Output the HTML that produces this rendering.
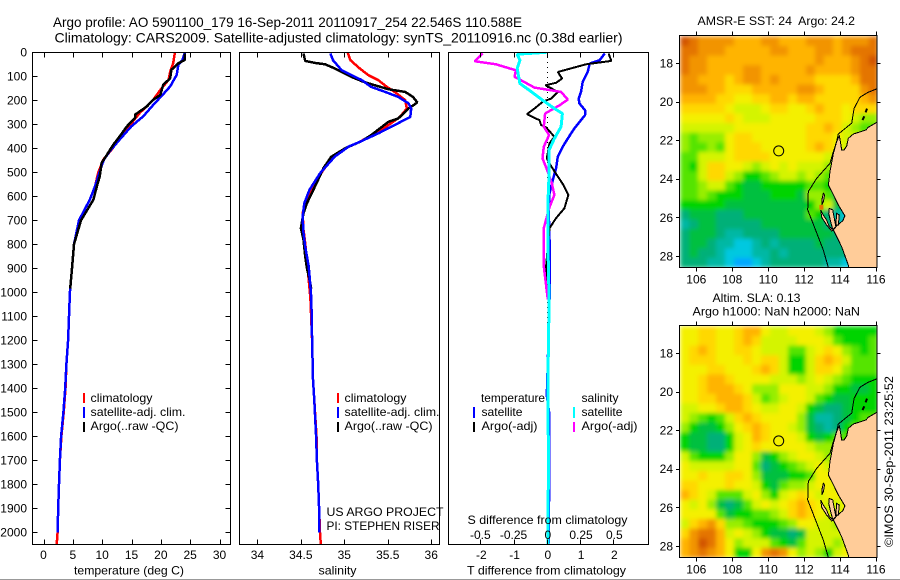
<!DOCTYPE html>
<html><head><meta charset="utf-8"><title>Argo profile</title>
<style>
html,body{margin:0;padding:0;background:#fff}
svg{display:block}
text{font-family:"Liberation Sans",sans-serif;font-size:12px;fill:#000}
.t{font-size:14px}
.frame{fill:none;stroke:#000;stroke-width:1;shape-rendering:crispEdges}
</style></head>
<body>
<svg id="fig" xmlns="http://www.w3.org/2000/svg" width="900" height="580" viewBox="0 0 900 580">
<defs>
<clipPath id="cp1"><rect x="32.5" y="52.5" width="198" height="492"/></clipPath>
<clipPath id="cp2"><rect x="239.5" y="52.5" width="200" height="492"/></clipPath>
<clipPath id="cp3"><rect x="448.5" y="52.5" width="200" height="492"/></clipPath>
<clipPath id="cpm1"><rect x="680" y="35.5" width="197" height="232"/></clipPath>
<clipPath id="cpm2"><rect x="680" y="325.5" width="197" height="232"/></clipPath>
<filter id="bm1" filterUnits="userSpaceOnUse" x="680" y="35" width="198" height="233"><feGaussianBlur stdDeviation="2.2" edgeMode="duplicate"/></filter>
<filter id="bm2" filterUnits="userSpaceOnUse" x="680" y="325" width="198" height="233"><feGaussianBlur stdDeviation="2.2" edgeMode="duplicate"/></filter>
</defs>

<text class="t" x="53" y="27" textLength="469" lengthAdjust="spacingAndGlyphs">Argo profile: AO 5901100_179 16-Sep-2011 20110917_254 22.546S 110.588E</text>
<text class="t" x="54.5" y="42.5" textLength="568" lengthAdjust="spacingAndGlyphs">Climatology: CARS2009. Satellite-adjusted climatology: synTS_20110916.nc (0.38d earlier)</text>

<g id="p1"></g>
<g id="p2"></g>
<g id="p3"></g>
<g id="m1"></g>
<g id="m2"></g>

<text x="74" y="574.5" textLength="110" lengthAdjust="spacingAndGlyphs">temperature (deg C)</text>
<text x="318.5" y="574.5" textLength="38" lengthAdjust="spacingAndGlyphs">salinity</text>
<text x="467" y="574.5" textLength="159" lengthAdjust="spacingAndGlyphs">T difference from climatology</text>
<text x="467.5" y="524" textLength="160" lengthAdjust="spacingAndGlyphs">S difference from climatology</text>

<g>
<rect x="83" y="393" width="2" height="10" fill="#f00"/>
<rect x="83" y="407" width="2" height="11" fill="#00f"/>
<rect x="83" y="422" width="2" height="10" fill="#000"/>
<text x="90.5" y="402" textLength="62" lengthAdjust="spacingAndGlyphs">climatology</text>
<text x="90.5" y="416" textLength="95" lengthAdjust="spacingAndGlyphs">satellite-adj. clim.</text>
<text x="90.5" y="430" textLength="88" lengthAdjust="spacingAndGlyphs">Argo(..raw -QC)</text>
</g>
<g>
<rect x="337" y="393" width="2" height="10" fill="#f00"/>
<rect x="337" y="407" width="2" height="11" fill="#00f"/>
<rect x="337" y="422" width="2" height="10" fill="#000"/>
<text x="344.5" y="402" textLength="62" lengthAdjust="spacingAndGlyphs">climatology</text>
<text x="344.5" y="416" textLength="95" lengthAdjust="spacingAndGlyphs">satellite-adj. clim.</text>
<text x="344.5" y="430" textLength="88" lengthAdjust="spacingAndGlyphs">Argo(..raw -QC)</text>
</g>
<g>
<text x="326.5" y="516" textLength="117" lengthAdjust="spacingAndGlyphs">US ARGO PROJECT</text>
<text x="326.5" y="530" textLength="113" lengthAdjust="spacingAndGlyphs">PI: STEPHEN RISER</text>
</g>
<g>
<text x="481" y="402" textLength="64" lengthAdjust="spacingAndGlyphs">temperature</text>
<text x="581.5" y="402" textLength="37" lengthAdjust="spacingAndGlyphs">salinity</text>
<rect x="473" y="407" width="2" height="11" fill="#00f"/>
<rect x="473" y="422" width="2" height="10" fill="#000"/>
<rect x="573" y="407" width="2" height="11" fill="#0ff"/>
<rect x="573" y="422" width="2" height="10" fill="#f0f"/>
<text x="481.5" y="416" textLength="41" lengthAdjust="spacingAndGlyphs">satellite</text>
<text x="481.5" y="430" textLength="56" lengthAdjust="spacingAndGlyphs">Argo(-adj)</text>
<text x="581.5" y="416" textLength="41" lengthAdjust="spacingAndGlyphs">satellite</text>
<text x="581.5" y="430" textLength="56" lengthAdjust="spacingAndGlyphs">Argo(-adj)</text>
</g>

<text x="697.5" y="25" textLength="157.5" lengthAdjust="spacingAndGlyphs" xml:space="preserve">AMSR-E SST: 24  Argo: 24.2</text>
<text x="712.5" y="302" textLength="88" lengthAdjust="spacingAndGlyphs">Altim. SLA: 0.13</text>
<text x="692.5" y="315.5" textLength="167.5" lengthAdjust="spacingAndGlyphs">Argo h1000: NaN h2000: NaN</text>
<text transform="translate(893,547) rotate(-90)" textLength="171" lengthAdjust="spacingAndGlyphs">©IMOS 30-Sep-2011 23:25:52</text>
<rect x="0" y="579" width="900" height="1" fill="#999"/>
</svg>

<script>
/* ---------- data ---------- */
const depthTicks = [0,100,200,300,400,500,600,700,800,900,1000,1100,1200,1300,1400,1500,1600,1700,1800,1900,2000];
const tempTicks = [0,5,10,15,20,25,30];
const salTicks = [34,34.5,35,35.5,36];
const salTickLabels = ['34','34.5','35','35.5','36'];
const tDiffTicks = [-2,-1,0,1,2];
const sDiffTicks = [-0.5,-0.25,0,0.25,0.5];
const sDiffTickLabels = ['-0.5','-0.25','0','0.25','0.5'];
const lonTicks = [106,108,110,112,114,116];
const latTicks = [18,20,22,24,26,28];

const tempClimDepth = [0,46,80,115,157,198,253,295,357,406,447,503,558,614,700,800,900,1000,1100,1200,1300,1400,1500,1600,1700,1800,1900,2000,2050];
const tempClim = [22.4,22.1,21.6,21.3,19.9,18.7,16.4,15,13,11.6,10.2,9.3,8.8,7.9,6.05,5.2,4.85,4.5,4.35,4.2,3.9,3.75,3.45,3.05,2.8,2.65,2.5,2.4,2.25];
const tempSatDepth = [0,32,52,94,142,183,211,267,308,363,412,447,495,558,614,700,800,900,1000,1100,1200,1300,1400,1500,1600,1700,1800,1900,2000];
const tempSat = [24.1,23.7,23,22.7,21.6,20.1,19,17,15,13,11.3,10.3,9.6,8.8,7.9,6.05,5.2,4.85,4.5,4.35,4.2,3.9,3.7,3.4,3,2.8,2.65,2.5,2.4];
const tempArgoDepth = [4,32,46,73,108,136,178,198,226,260,274,309,350,385,427,461,516,558,614,700,800,900,985];
const tempArgo = [24.1,24.1,23,21.8,21.6,20.4,19.9,18.7,17.6,15.6,15.6,14.2,13,11.9,10.8,9.9,9.6,9.1,8.5,6.4,5.2,4.85,4.55];

const salClimDepth = [3,33,68,96,116,144,165,199,234,269,303,338,373,393,428,490,546,615,670,740,795,864,947,1024,1200,1363,1450,1600,1700,1800,1900,2000,2050];
const salClim = [35.04,35.07,35.18,35.28,35.39,35.49,35.58,35.7,35.72,35.64,35.51,35.35,35.18,35.05,34.89,34.76,34.66,34.57,34.52,34.53,34.55,34.57,34.59,34.61,34.63,34.64,34.655,34.68,34.685,34.7,34.71,34.72,34.73];
const salSatDepth = [5,33,75,93,116,144,165,186,213,234,269,303,338,373,393,435,504,573,629,684,753,809,892,975,1024,1200,1363,1450,1600,1700,1800,1900,2000];
const salSat = [34.84,34.87,34.97,35.07,35.2,35.31,35.47,35.62,35.74,35.77,35.76,35.58,35.39,35.18,35.05,34.89,34.72,34.6,34.54,34.52,34.53,34.55,34.59,34.61,34.62,34.63,34.64,34.655,34.675,34.685,34.7,34.71,34.715];
const salArgoDepth = [5,36,44,50,64,82,102,123,137,154,165,186,209,234,276,289,345,370,400,435,483,546,629,670,733,781,850,899,947,986];
const salArgo = [34.53,34.55,34.66,34.78,34.87,34.97,35.08,35.22,35.35,35.51,35.7,35.79,35.84,35.74,35.62,35.51,35.31,35.2,35.01,34.85,34.76,34.68,34.57,34.53,34.5,34.53,34.55,34.57,34.6,34.62];

const diffTSatDepth = [5,33,47,82,123,165,193,213,241,262,317,359,393,435,483,532,587,670,781,1030,1400,1420,1500,1700,2050];
const diffTSat = [1.71,1.56,1.26,1.2,1.05,1,0.93,0.95,1.12,1.12,0.8,0.6,0.45,0.3,0.25,0.15,0.05,0.03,0.05,0.05,-0.02,-0.04,0.04,0.05,0.02];
const diffTArgoDepth = [5,36,50,82,109,127,137,165,193,206,234,258,283,303,313,352,379,442,474,511,553,594,650,691,733,809,892,975];
const diffTArgo = [1.83,1.91,1.15,0.3,0.43,0.25,-0.07,0.3,0.1,-0.15,-0.4,-0.63,-0.25,-0.2,-0.05,0.2,0.05,-0.03,0.1,0.27,0.47,0.62,0.5,0.25,0.05,0,-0.05,-0.02];
const diffSArgoDepth = [5,37,50,75,102,123,147,165,197,220,255,310,345,393,442,483,546,594,650,733,809,892,1030];
const diffSArgo = [-0.49,-0.55,-0.39,-0.24,-0.25,-0.18,-0.1,0.1,0.15,0.09,-0.02,-0.03,0.01,-0.03,-0.04,-0.01,0.03,0.05,0.01,-0.03,-0.03,-0.03,0];
const diffSSatDepth = [0,8,33,68,130,158,199,234,255,310,359,407,504,643,781,1030,1400,1700,2050];
const diffSSat = [-0.01,-0.23,-0.21,-0.23,-0.21,-0.14,-0.04,0.05,0.11,0.1,0.05,0.01,0.01,0,0,0.01,0,0.005,0];

/* map level grids: one char per 0.5-degree cell, hex level into mapPalette */
const mapPalette = ['#00a8ff','#00c8e0','#00b8a4','#00b078','#00c040','#00d400','#54e400','#98ee00','#d4f400','#f4f000','#ffd800','#ffb400','#f29400','#e47400','#d25400'];
const sstRows = [
'edccccbbbccbbbcccbcccd',
'ddcccbbbbbccbbbccbcddd',
'dccbbbbbbbbbbbbcbbbcde',
'dccbbbbccbbbbbcbbbbcdd',
'ccbbbabccbcbbbbaaaabdd',
'cccbbaaabbbbbccbaaaacd',
'bbbbaa99aabbabbaaaaabc',
'aaaaa98889aa99abaa9aaa',
'99999a988899999aaa9877',
'88888899999999aaba8766',
'767779aa999999aaa98877',
'766769aaa99999aba98877',
'668889aaaa999999887777',
'658aa99878989888766666',
'668aa87556788787654444',
'6678865445555566544444',
'6676555444555477642222',
'5555544444444457842111',
'3444333444444465321111',
'2344333334444444321111',
'3444322333344444433333',
'3443221123233334333333',
'3433211122323333333322',
'3332210012333333221111'
];
const slaRows = [
'99aa99abb9889998755555',
'99aa99aba8888999865556',
'9aba99aa98886689a97656',
'9aaa999a9aa8558aba8666',
'999aa999aba8558aa97666',
'99abba9999888789876555',
'99abbba977799988755445',
'99aabbba86789986544555',
'8899abba98899854334555',
'876568aba9999742234566',
'7544579aba998743235666',
'54433589ba999854566677',
'54433589a9999987778888',
'8655579974578998768888',
'9888889963456789878888',
'99a99aa974445569988999',
'aa999a9985467789989999',
'ba98666897589a98999aaa',
'989743468989aba98899aa',
'999964556678aba988999a',
'8abca7765556799887899a',
'acddb898754434888889aa',
'bcedb978886546888789aa',
'bcdcb9559cdc9787589aaa'
];

/* geography in degrees: [lon, lat] */
const coastLand = [[116.1,21.03],[115.57,21.32],[115.44,21.46],[114.74,21.67],[114.46,21.89],[114.37,22.29],[114.22,22.5],[114.09,22.5],[114,21.98],[113.96,21.77],[113.81,22.07],[113.63,22.67],[113.44,23.62],[113.35,24.32],[113.59,24.75],[113.9,25.35],[114.27,25.92],[114.15,26.17],[113.81,26.44],[113.63,26.65],[114.09,27.52],[114.46,28.47],[114.52,28.7],[116.2,28.7]];
const peronLand = [[113.4,25.53],[113.59,25.61],[113.68,26.05],[113.77,26.48],[113.59,26.62],[113.48,26.22],[113.37,25.79]];
const eastBayLand = [[113.81,25.79],[113.96,25.87],[113.9,26.39],[113.77,26.39]];
const edelLand = [[112.92,25.61],[113.07,25.87],[113.25,26.13],[113.4,26.48],[113.63,26.65],[113.53,26.7],[113.25,26.39],[112.98,25.99]];
const hartogLand = [[113.07,24.75],[113.14,24.83],[113.07,25.18],[112.99,25.35],[112.99,25.09]];
const isletA = [[115.5,20.35],[115.42,20.55]];
const isletB = [[115.35,20.75],[115.25,20.95]];
const isobath = [[116.1,19.3],[115.57,19.5],[115.11,19.76],[114.78,20.34],[114.65,21.11],[113.9,21.67],[113.81,22.07],[113.63,22.58],[113.44,23.19],[112.7,23.97],[112.23,24.66],[112.2,25.61],[112.6,26.56],[113.07,27.69],[113.38,28.7]];
const floatLon = 110.588;
const floatLat = 22.546;
const hotCellLon = [112.85,113.07];
const hotCellLat = [25.35,25.6];

/* ---------- helpers ---------- */
const NS = 'http://www.w3.org/2000/svg';
function mk(parent, tag, attrs, txt){
  const e = document.createElementNS(NS, tag);
  for (const k in attrs) e.setAttribute(k, attrs[k]);
  if (txt !== undefined) e.textContent = txt;
  parent.appendChild(e);
  return e;
}
const yDepth = d => 52.3 + d * 0.24;
const xTemp = v => 43.5 + v * 5.867;
const xSal = v => 344.3 + (v - 35) * 86.9;
const xTDiff = v => 547.8 + v * 33.25;
const xSDiff = v => 547.8 + v * 133;
const xLon = lon => 696.3 + (lon - 106) * 17.97;
const yLatM1 = lat => 63.3 + (lat - 18) * 19.27;
const yLatM2 = lat => 353.3 + (lat - 18) * 19.27;

function profile(g, xs, ds, xf, color, clip, name, width){
  const pts = xs.map((v,i) => xf(v).toFixed(1) + ',' + yDepth(ds[i]).toFixed(1)).join(' ');
  const el = mk(g, 'polyline', {points: pts, fill:'none', stroke: color, 'stroke-width': width || 2, 'clip-path': 'url(#'+clip+')', 'stroke-linejoin':'bevel', 'shape-rendering':'crispEdges'});
  
  
}
function vTick(g, x, y1, y2){
  const el = mk(g, 'line', {x1:x, x2:x, y1:y1, y2:y2, stroke:'#000', 'stroke-width':1, 'shape-rendering':'crispEdges'});
  
  
}
function hTick(g, y, x1, x2){
  const el = mk(g, 'line', {x1:x1, x2:x2, y1:y, y2:y, stroke:'#000', 'stroke-width':1, 'shape-rendering':'crispEdges'});
  
  
}
function label(g, x, y, s, anchor){
  const el = mk(g, 'text', {x:x, y:y, 'text-anchor':anchor}, s);
  
  
}
function frame(g, x, y, w, h){
  const el = mk(g, 'rect', {x:x, y:y, width:w, height:h, class:'frame'});
  
  
}

/* ---------- panel 1 ---------- */
const p1 = document.getElementById('p1');
profile(p1, tempClim, tempClimDepth, xTemp, '#f00', 'cp1', 'temperature-climatology-line', 2.5);
profile(p1, tempSat, tempSatDepth, xTemp, '#00f', 'cp1', 'temperature-satellite-line', 2.5);
profile(p1, tempArgo, tempArgoDepth, xTemp, '#000', 'cp1', 'temperature-argo-line', 2.5);
frame(p1, 32.5, 52.5, 198, 492);
depthTicks.forEach(d => {
  const y = Math.round(yDepth(d)) + 0.5;
  hTick(p1, y, 32.5, 37.5);
  hTick(p1, y, 225.5, 230.5);
  label(p1, 27, yDepth(d) + 4.3, String(d), 'end');
});
tempTicks.forEach(v => {
  const x = Math.round(xTemp(v)) + 0.5;
  vTick(p1, x, 52.5, 57.5);
  vTick(p1, x, 539.5, 544.5);
  label(p1, xTemp(v), 559, String(v), 'middle');
});

/* ---------- panel 2 ---------- */
const p2 = document.getElementById('p2');
profile(p2, salClim, salClimDepth, xSal, '#f00', 'cp2', 'salinity-climatology-line', 2.5);
profile(p2, salArgo, salArgoDepth, xSal, '#000', 'cp2', 'salinity-argo-line', 2.5);
profile(p2, salSat, salSatDepth, xSal, '#00f', 'cp2', 'salinity-satellite-line', 2.5);
frame(p2, 239.5, 52.5, 200, 492);
salTicks.forEach((v,i) => {
  const x = Math.round(xSal(v)) + 0.5;
  vTick(p2, x, 52.5, 57.5);
  vTick(p2, x, 539.5, 544.5);
  label(p2, xSal(v), 559, salTickLabels[i], 'middle');
});

/* ---------- panel 3 ---------- */
const p3 = document.getElementById('p3');
const zero = mk(p3, 'line', {x1:547.5, x2:547.5, y1:52, y2:545, stroke:'#000', 'stroke-width':1, 'stroke-dasharray':'1 4', 'shape-rendering':'crispEdges'});


profile(p3, diffTSat, diffTSatDepth, xTDiff, '#00f', 'cp3', 'temperature-satellite-difference-line', 2.5);
profile(p3, diffTArgo, diffTArgoDepth, xTDiff, '#000', 'cp3', 'temperature-argo-difference-line', 2);
profile(p3, diffSArgo, diffSArgoDepth, xSDiff, '#f0f', 'cp3', 'salinity-argo-difference-line', 2.5);
profile(p3, diffSSat, diffSSatDepth, xSDiff, '#0ff', 'cp3', 'salinity-satellite-difference-line', 3);
frame(p3, 448.5, 52.5, 200, 492);
tDiffTicks.forEach(v => {
  const x = Math.round(xTDiff(v)) - 0.5;
  vTick(p3, x, 52.5, 57.5);
  vTick(p3, x, 539.5, 544.5);
  label(p3, xTDiff(v), 559, String(v), 'middle');
});
sDiffTicks.forEach((v,i) => {
  label(p3, xSDiff(v) - (i < 2 ? 1 : 0), 539, sDiffTickLabels[i], 'middle');
});

/* ---------- maps ---------- */
function drawMap(gid, rows, yLat, clip, blur, top, labelY, showHotCell){
  const g = document.getElementById(gid);
  const cells = mk(g, 'g', {filter:'url(#'+blur+')', 'clip-path':'url(#'+clip+')'});
  
  
  rows.forEach((row, j) => {
    for (let i = 0; i < 22; i++) {
      const lvl = parseInt(row[i], 16);
      const lon = 105.1 + i * 0.5;
      const lat = 16.6 + j * 0.5;
      const c = mk(cells, 'rect', {x: xLon(lon).toFixed(2), y: yLat(lat).toFixed(2), width: (0.5*17.97+0.4).toFixed(2), height: (0.5*19.27+0.4).toFixed(2), fill: mapPalette[lvl]});
      
      
    }
  });
  if (showHotCell) {
    const hot = mk(g, 'rect', {x: xLon(hotCellLon[0]).toFixed(1), y: yLat(hotCellLat[0]).toFixed(1), width: (xLon(hotCellLon[1])-xLon(hotCellLon[0])).toFixed(1), height: (yLat(hotCellLat[1])-yLat(hotCellLat[0])).toFixed(1), fill:'#e47400'});
    
    
  }
  const geo = mk(g, 'g', {'clip-path':'url(#'+clip+')'});
  
  
  const pp = a => a.map(p => xLon(p[0]).toFixed(1) + ',' + yLat(p[1]).toFixed(1)).join(' ');
  [coastLand, peronLand, eastBayLand, edelLand, hartogLand].forEach(a => {
    const land = mk(geo, 'polygon', {points: pp(a), fill:'#ffcc99', stroke:'#000', 'stroke-width':1, 'shape-rendering':'crispEdges'});
    
    
  });
  [isletA, isletB].forEach(a => {
    const isl = mk(geo, 'polyline', {points: pp(a), fill:'none', stroke:'#000', 'stroke-width':2});
    
    
  });
  const iso = mk(geo, 'polyline', {points: pp(isobath), fill:'none', stroke:'#000', 'stroke-width':1, 'shape-rendering':'crispEdges'});
  
  
  const circ = mk(g, 'circle', {cx: xLon(floatLon).toFixed(1), cy: yLat(floatLat).toFixed(1), r: 5, fill:'none', stroke:'#000', 'stroke-width':1});
  
  
  frame(g, 679.5, top + 0.5, 197.5, 232);
  lonTicks.forEach(lon => {
    const x = Math.round(xLon(lon)) + 0.5;
    vTick(g, x, top - 3.5, top + 0.5);
    vTick(g, x, top + 232.5, top + 236.5);
    label(g, xLon(lon), labelY, String(lon), 'middle');
  });
  latTicks.forEach(lat => {
    const y = Math.round(yLat(lat)) + 0.5;
    hTick(g, y, 676, 679.5);
    hTick(g, y, 877, 880.5);
    label(g, 673, yLat(lat) + 4.3, String(lat), 'end');
  });
}
drawMap('m1', sstRows, yLatM1, 'cpm1', 'bm1', 35, 283.5, true);
drawMap('m2', slaRows, yLatM2, 'cpm2', 'bm2', 325, 573.5, false);
</script>
</body></html>
